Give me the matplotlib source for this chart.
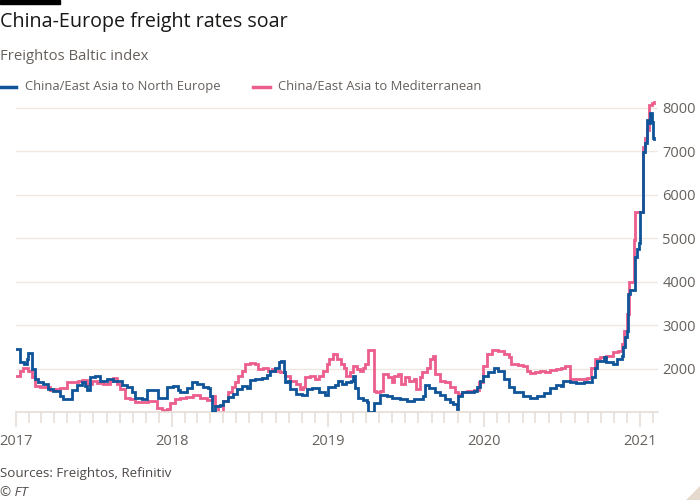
import numpy as np
import matplotlib
matplotlib.use("Agg")
import matplotlib.pyplot as plt
import matplotlib.dates as mdates
from matplotlib.lines import Line2D
from matplotlib.patches import Polygon, Rectangle

plt.rcParams['font.family'] = ['Open Sans', 'DejaVu Sans']

title = "China-Europe freight rates soar"
subtitle = "Freightos Baltic index"
series_names = ["China/East Asia to North Europe", "China/East Asia to Mediterranean"]
source_text = "Sources: Freightos, Refinitiv"
credit_text = "© FT"
y_ticks = [2000, 3000, 4000, 5000, 6000, 7000, 8000]

# months since 1 Jan 2017, index value
ne_month = [0.0, 0.31, 0.6, 0.82, 0.95, 1.2, 1.46, 1.72, 2.1, 2.49, 2.87, 3.38, 3.64, 4.28, 4.67,
            5.05, 5.3, 5.49, 5.69, 6.08, 6.46, 6.97, 7.49, 8.13, 8.51, 8.9, 9.15, 9.67, 10.05,
            10.69, 10.95, 11.59, 12.1, 12.49, 12.62, 13.13, 13.5, 13.9, 14.4, 14.8, 14.92,
            15.05, 15.3, 15.7, 15.95, 16.3, 16.7, 17.0, 17.36, 17.74, 18.0, 18.4, 18.9, 19.3,
            19.5, 19.9, 20.2, 20.4, 20.6, 20.7, 20.9, 21.1, 21.5, 22.0, 22.4, 22.8, 23.3,
            23.77, 24.0, 24.5, 24.8, 25.05, 25.4, 25.8, 25.95, 26.1, 26.3, 26.7, 26.97, 27.1,
            27.5, 28.0, 28.5, 28.9, 29.5, 30.05, 30.6, 31.1, 31.3, 31.46, 31.8, 32.2, 32.6,
            33.0, 33.4, 33.64, 33.9, 34.0, 34.3, 34.7, 35.2, 35.45, 35.7, 35.95, 36.3, 36.5,
            36.8, 37.1, 37.5, 37.9, 38.3, 39.0, 39.5, 40.05, 40.6, 41.1, 41.5, 41.9, 42.1,
            42.6, 43.1, 43.7, 44.3, 44.5, 44.7, 45.2, 45.4, 45.95, 46.25, 46.6, 46.7, 46.85,
            47.0, 47.05, 47.2, 47.6, 47.75, 47.95, 48.0, 48.2, 48.26, 48.4, 48.5, 48.6, 48.77,
            48.9, 48.97, 49.07]
ne_value = [2450, 2140, 2100, 2230, 2350, 2000, 1760, 1680, 1650, 1530, 1480, 1370, 1310, 1500, 1610,
            1680, 1590, 1500, 1810, 1830, 1720, 1760, 1720, 1610, 1570, 1450, 1330, 1300, 1500,
            1500, 1330, 1570, 1590, 1500, 1470, 1550, 1690, 1640, 1580, 1550, 1370,
            1000, 1140, 1160, 1260, 1350, 1410, 1520, 1600, 1550, 1730, 1760, 1780, 1850,
            1950, 2020, 2140, 2180, 1910, 1680, 1720, 1520, 1410, 1390, 1520, 1550, 1470,
            1400, 1570, 1610, 1720, 1640, 1680, 1720, 1830, 1550, 1330, 1270, 1220, 1000,
            1200, 1390, 1370, 1330, 1300, 1260, 1290, 1300, 1370, 1620, 1550, 1470, 1400,
            1300, 1220, 1180, 1060, 1370, 1450, 1470, 1490, 1570, 1720, 1830, 1910, 1930,
            2020, 1950, 1760, 1580, 1450, 1370, 1330, 1370, 1430, 1550, 1610, 1590, 1710,
            1690, 1660, 1690, 1810, 2020, 2180, 2260, 2140, 2100, 2220, 2290, 2490, 2720,
            2870, 3720, 3800, 4560, 4740, 4880, 5600, 5680, 6990, 7180, 7720, 7650, 7880,
            7660, 7300, 7280]

med_month = [0.0, 0.31, 0.56, 0.95, 1.2, 1.46, 1.85, 2.62, 3.0, 3.38, 3.9, 4.4, 4.8, 5.05, 5.44,
             5.82, 6.2, 6.7, 7.2, 7.49, 7.74, 8.0, 8.4, 8.77, 9.15, 9.67, 10.18, 10.56, 10.82,
             11.2, 11.6, 11.85, 12.2, 12.6, 13.1, 13.6, 14.15, 14.7, 15.05, 15.3, 15.57, 15.95,
             16.3, 16.6, 16.85, 17.1, 17.36, 17.6, 18.0, 18.4, 18.6, 19.0, 19.4, 19.67, 19.9,
             20.3, 20.7, 21.07, 21.5, 21.85, 22.1, 22.2, 22.6, 23.0, 23.3, 23.65, 23.9, 24.1,
             24.4, 24.7, 25.0, 25.2, 25.4, 25.7, 25.95, 26.2, 26.46, 26.7, 26.85, 27.1, 27.55,
             27.7, 28.0, 28.25, 28.6, 28.9, 29.1, 29.4, 29.6, 29.9, 30.2, 30.6, 30.8, 31.1,
             31.2, 31.6, 31.85, 32.1, 32.2, 32.6, 33.0, 33.4, 33.8, 34.0, 34.3, 34.7, 35.2,
             35.6, 35.95, 36.2, 36.6, 37.1, 37.5, 37.9, 38.1, 38.6, 39.0, 39.3, 39.5, 39.9,
             40.3, 40.7, 41.1, 41.5, 41.9, 42.2, 42.6, 43.7, 43.9, 44.2, 44.5, 44.9, 45.4,
             45.95, 46.3, 46.6, 46.8, 47.0, 47.15, 47.5, 47.6, 48.2, 48.4, 48.55, 48.7, 48.9,
             49.05]
med_value = [1830, 1950, 2010, 1950, 1800, 1600, 1580, 1500, 1530, 1550, 1680, 1700, 1720, 1730, 1640,
             1720, 1660, 1640, 1720, 1780, 1640, 1530, 1330, 1300, 1240, 1220, 1260, 1260, 1100,
             1050, 1070, 1200, 1300, 1330, 1350, 1390, 1330, 1270, 1370, 1140, 1010, 1260,
             1450, 1570, 1680, 1830, 1950, 2100, 2120, 2100, 1990, 2020, 1950, 1990, 1950,
             1910, 1830, 1720, 1640, 1530, 1580, 1800, 1830, 1760, 1830, 1950, 2100, 2220,
             2330, 2220, 2100, 2020, 1830, 1910, 2060, 1990, 1950, 2020, 2100, 2420, 1490,
             1450, 1490, 1870, 1800, 1680, 1830, 1870, 1640, 1800, 1720, 1760, 1530, 1800,
             1910, 2020, 2220, 2290, 1870, 1720, 1680, 1570, 1450, 1410, 1450, 1490, 1510,
             1680, 2060, 2330, 2420, 2400, 2330, 2260, 2100, 2080, 2060, 1950, 1890, 1930,
             1950, 1910, 1960, 1990, 2020, 2050, 1760, 1750, 1780, 2020, 2220, 2260, 2290,
             2370, 2400, 2560, 2870, 3260, 3990, 4950, 5600, 7100, 7300, 7490, 8070, 8100,
             8120]

blue = "#0f5499"
pink = "#eb5e8d"
grid_col = "#efe8e2"
axis_col = "#e6ddd5"
text_grey = "#66605c"
foot_col = "#4e4946"

base = np.datetime64("2017-01-01T00")
def to_dates(months):
    hours = np.round(np.array(months) * 30.4375 * 24).astype("int64")
    return base + hours.astype("timedelta64[h]")

fig = plt.figure(figsize=(7, 5), dpi=100)
fig.patch.set_facecolor("white")
ax = fig.add_axes([16 / 700, 1 - 412 / 500, (658 - 16) / 700, (412 - 99) / 500])
ax.set_facecolor("white")

for yv in y_ticks:
    ax.axhline(yv, color=grid_col, lw=1, zorder=0)

ax.step(to_dates(ne_month), ne_value, where="post", color=blue, lw=2.0, zorder=3,
        solid_joinstyle="miter")
ax.step(to_dates(med_month), med_value, where="post", color=pink, lw=2.0, zorder=2,
        solid_joinstyle="miter")

ax.set_ylim(1000, 8200)
ax.set_xlim(np.datetime64("2017-01-01"), to_dates([49.38])[0])

for s in ["top", "left", "right"]:
    ax.spines[s].set_visible(False)
ax.spines["bottom"].set_color(axis_col)
ax.spines["bottom"].set_linewidth(1.2)

ax.yaxis.tick_right()
ax.set_yticks(y_ticks)
ax.set_yticklabels([str(v) for v in y_ticks])
ax.tick_params(axis="y", length=0, pad=3, labelsize=10.5, labelcolor=text_grey)

ax.xaxis.set_major_locator(mdates.YearLocator())
ax.xaxis.set_major_formatter(mdates.DateFormatter("%Y"))
ax.xaxis.set_minor_locator(mdates.MonthLocator())
ax.tick_params(axis="x", which="major", length=11, width=1.1, color=axis_col, pad=5,
               labelsize=10.5, labelcolor=text_grey)
ax.tick_params(axis="x", which="minor", length=8, width=1.1, color=axis_col)

# header
fig.patches.append(Rectangle((0, 1 - 4 / 500), 60 / 700, 4 / 500, transform=fig.transFigure,
                             color="black"))
fig.text(0, 1 - 22 / 500, title, fontsize=14.2, color="#1a1817", va="center", ha="left")
fig.text(0, 1 - 57 / 500, subtitle, fontsize=10.7, color=text_grey, va="center", ha="left")

# legend
ly = 1 - 87 / 500
fig.lines.append(Line2D([0, 16 / 700], [ly, ly], transform=fig.transFigure, color=blue, lw=2.5))
fig.text(25 / 700, ly, series_names[0], fontsize=9.4, color=text_grey, va="center", ha="left")
fig.lines.append(Line2D([253 / 700, 270 / 700], [ly, ly], transform=fig.transFigure, color=pink, lw=2.5))
fig.text(278 / 700, ly, series_names[1], fontsize=9.4, color=text_grey, va="center", ha="left")

# footer
fig.text(0, 1 - 474 / 500, source_text, fontsize=9.6, color=foot_col, va="center", ha="left")
fig.text(0, 1 - 492 / 500, credit_text, fontsize=9.6, color=foot_col, va="center", ha="left",
         style="italic")

fig.patches.append(Polygon([[686 / 700, 0], [1, 0], [1, 14 / 500]], closed=True,
                           transform=fig.transFigure, color="#e6dace"))

fig.savefig("out.png", dpi=100, facecolor="white")
